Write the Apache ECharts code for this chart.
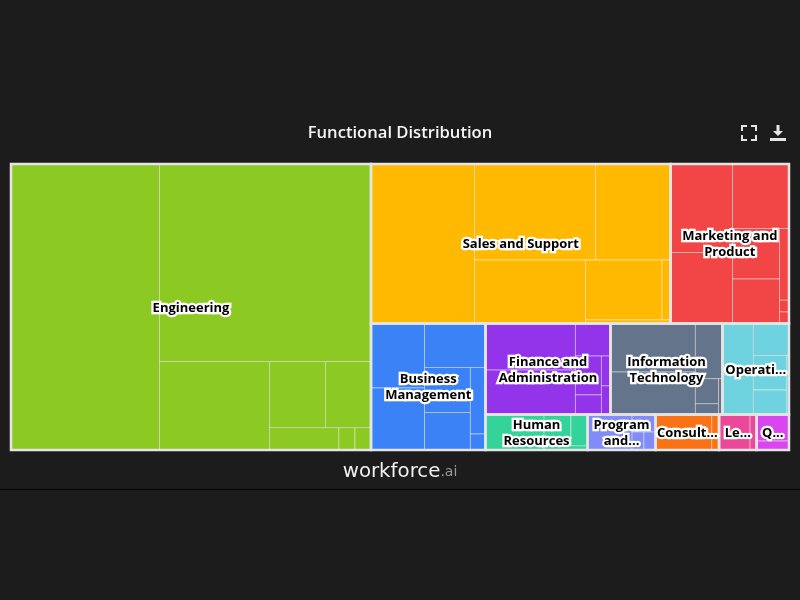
<!DOCTYPE html>
<html>
<head>
<meta charset="utf-8">
<title>Functional Distribution</title>
<script src="https://cdn.jsdelivr.net/npm/echarts@6/dist/echarts.min.js"></script>
<style>
  html, body { margin: 0; padding: 0; background: #1c1c1c; }
  #main { width: 800px; height: 600px; }
</style>
</head>
<body>
<div id="main"></div>
<script>
// categories and what gets printed on them
var categories = ['Engineering', 'Sales and Support', 'Marketing and Product', 'Business Management',
  'Finance and Administration', 'Information Technology', 'Operations', 'Human Resources',
  'Program and Project Management', 'Consulting', 'Legal', 'Quality'];
var labels = ['Engineering', 'Sales and Support', 'Marketing and\nProduct', 'Business\nManagement',
  'Finance and\nAdministration', 'Information\nTechnology', 'Operati...', 'Human\nResources',
  'Program\nand...', 'Consult...', 'Le...', 'Q...'];
var colors = ['#8cc923', '#ffb900', '#f24545', '#3b82f6', '#9333ea', '#64748b',
  '#6fd2df', '#34d399', '#818cf8', '#f97316', '#ec4899', '#d946ef'];

// sub-function sizes inside each category
var engineering = [4247, 4177, 974, 370, 300, 155, 36, 36];
var sales = [1651, 1162, 720, 705, 459, 51, 30];
var marketing = [549, 440, 364, 237, 209, 68, 11, 11];
var business = [345, 332, 268, 207, 172, 100, 24];
var finance = [419, 400, 114, 101, 51, 27, 26];
var technology = [412, 361, 149, 58, 25, 14];
var operations = [160, 122, 114, 114, 81, 15];
var humanResources = [208, 84, 52, 18];
var program = [158, 41, 21, 21];
var consulting = [199, 26];
var legal = [110, 23];
var quality = [86, 29];

var groups = [engineering, sales, marketing, business, finance, technology,
  operations, humanResources, program, consulting, legal, quality];

var plotW = 778;
var plotH = 286;

function sum(arr) {
  return arr.reduce(function (a, b) { return a + b; }, 0);
}
function aspect(w, h) {
  return Math.max(w / h, h / w);
}

// squarified with alternating direction: columns first, then rows, and so on
function layout(values, x0, y0, x1, y1) {
  var scale = (x1 - x0) * (y1 - y0) / sum(values);
  var vertical = true;
  var out = [];
  var i = 0;
  while (i < values.length) {
    var w = x1 - x0, h = y1 - y0;
    var side = vertical ? h : w;
    var row = [values[i] * scale];
    var total = row[0];
    i++;
    while (i < values.length) {
      var last = row[row.length - 1];
      var next = values[i] * scale;
      var oldT = total / side, newT = (total + next) / side;
      if (aspect(newT, last / newT) > aspect(oldT, last / oldT)) break;
      row.push(next);
      total += next;
      i++;
    }
    var t = total / side;
    var pos = vertical ? y0 : x0;
    row.forEach(function (a) {
      var s = a / t;
      if (vertical) out.push([x0, pos, x0 + t, pos + s]);
      else out.push([pos, y0, pos + s, y0 + t]);
      pos += s;
    });
    if (vertical) x0 += t; else y0 += t;
    vertical = !vertical;
  }
  return out;
}

var groupRects = layout(groups.map(sum), 0, 0, plotW, plotH);
var leafRects = [];
groupRects.forEach(function (r, g) {
  layout(groups[g], r[0], r[1], r[2], r[3]).forEach(function (c) {
    leafRects.push(c.concat(g));
  });
});

function rectShape(api) {
  var a = api.coord([api.value(0), api.value(1)]);
  var b = api.coord([api.value(2), api.value(3)]);
  return { x: a[0], y: a[1], width: b[0] - a[0], height: b[1] - a[1] };
}

var chart = echarts.init(document.getElementById('main'));
chart.setOption({
  backgroundColor: '#1c1c1c',
  animation: false,
  title: {
    text: 'Functional Distribution',
    left: 'center',
    top: 120,
    textStyle: { color: '#f5f5f5', fontFamily: 'Open Sans', fontSize: 16.6, fontWeight: 600 }
  },
  toolbox: {
    right: -1,
    top: 110,
    itemSize: 16,
    itemGap: 13,
    iconStyle: { color: '#e5e5e5', borderWidth: 0 },
    feature: {
      myFull: {
        title: 'Full screen',
        icon: 'path://M0 6V0H6V2H2V6ZM10 0H16V6H14V2H10ZM16 10V16H10V14H14V10ZM6 16H0V10H2V14H6Z',
        onclick: function () {}
      },
      saveAsImage: {
        title: 'Download',
        icon: 'path://M6.5 0H9.5V6H13L8 11L3 6H6.5ZM0 13H16V16H0Z'
      }
    }
  },
  grid: { left: 11, top: 164, width: plotW, height: plotH },
  xAxis: { type: 'value', min: 0, max: plotW, show: false },
  yAxis: { type: 'value', min: 0, max: plotH, inverse: true, show: false },
  graphic: [
    {
      type: 'text',
      left: 'center',
      top: 462,
      style: {
        rich: {
          a: { fill: '#f0f0f0', font: '400 19.8px "DejaVu Sans"' },
          b: { fill: '#9a9a9a', font: '400 14px "DejaVu Sans"' }
        },
        text: '{a|workforce}{b|.ai}'
      }
    },
    {
      type: 'line',
      shape: { x1: 0, y1: 489.5, x2: 800, y2: 489.5 },
      style: { stroke: '#050505', lineWidth: 1 }
    }
  ],
  series: [
    {
      type: 'custom',
      coordinateSystem: 'cartesian2d',
      silent: true,
      data: leafRects,
      renderItem: function (params, api) {
        return {
          type: 'rect',
          shape: rectShape(api),
          style: { fill: colors[api.value(4)], stroke: 'rgba(255,255,255,0.45)', lineWidth: 1 }
        };
      }
    },
    {
      type: 'custom',
      coordinateSystem: 'cartesian2d',
      silent: true,
      clip: false,
      data: groupRects,
      renderItem: function (params, api) {
        return {
          type: 'rect',
          shape: rectShape(api),
          style: { fill: 'none', stroke: '#e5e5e5', lineWidth: 2.5 }
        };
      }
    },
    {
      type: 'custom',
      coordinateSystem: 'cartesian2d',
      silent: true,
      clip: false,
      data: groupRects,
      renderItem: function (params, api) {
        var s = rectShape(api);
        return {
          type: 'text',
          style: {
            text: labels[params.dataIndex],
            x: s.x + s.width / 2,
            y: s.y + s.height / 2 + 1,
            align: 'center',
            verticalAlign: 'middle',
            fill: '#000',
            stroke: '#fff',
            lineWidth: 4.5,
            lineJoin: 'round',
            font: '700 13px "Open Sans"',
            lineHeight: 16
          }
        };
      }
    }
  ]
});
</script>
</body>
</html>
